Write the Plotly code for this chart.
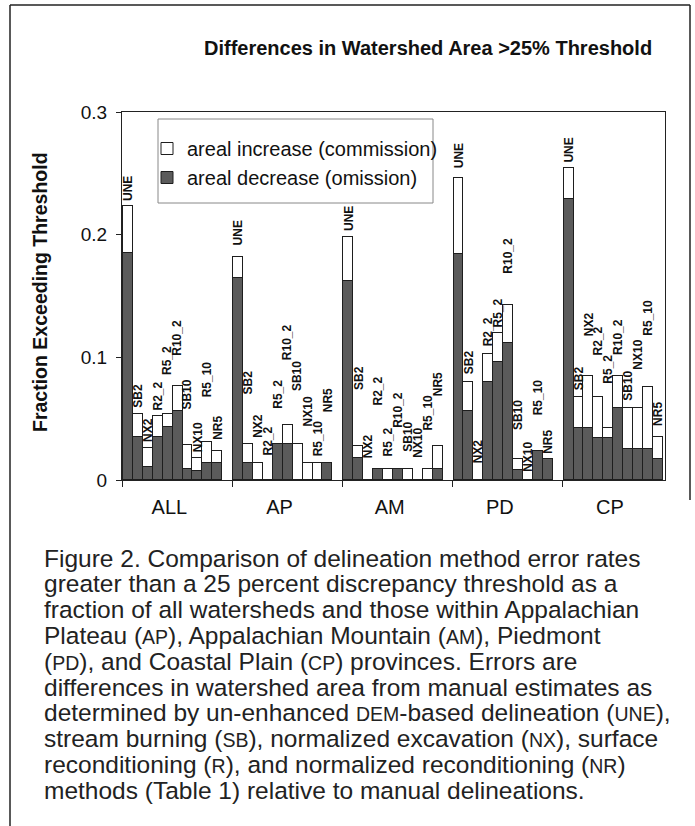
import plotly.graph_objects as go

# ---------------- data ----------------
groups = ["ALL", "AP", "AM", "PD", "CP"]
methods = ["UNE", "SB2", "NX2", "R2_2", "R5_2", "R10_2", "SB10", "NX10", "R5_10", "NR5"]

# areal decrease (omission) – dark part of each bar
omission_all = [0.185, 0.035, 0.011, 0.035, 0.043, 0.0565, 0.009, 0.007, 0.014, 0.014]
omission_ap = [0.165, 0.014, 0.0, 0.0, 0.029, 0.029, 0.0, 0.0, 0.0, 0.014]
omission_am = [0.162, 0.018, 0.0, 0.009, 0.0, 0.009, 0.0, 0.0, 0.0, 0.009]
omission_pd = [0.184, 0.056, 0.0, 0.080, 0.096, 0.112, 0.008, 0.0, 0.024, 0.017]
omission_cp = [0.229, 0.0425, 0.0425, 0.0345, 0.0345, 0.059, 0.0255, 0.0255, 0.0255, 0.0175]

# areal increase (commission) – white part stacked on top
commission_all = [0.038, 0.019, 0.015, 0.017, 0.011, 0.020, 0.0195, 0.011, 0.017, 0.010]
commission_ap = [0.017, 0.015, 0.014, 0.0, 0.0, 0.0155, 0.029, 0.014, 0.014, 0.0]
commission_am = [0.036, 0.010, 0.0, 0.0, 0.009, 0.0, 0.009, 0.0, 0.009, 0.019]
commission_pd = [0.062, 0.024, 0.0, 0.023, 0.024, 0.031, 0.009, 0.0, 0.0, 0.0]
commission_cp = [0.025, 0.0255, 0.0425, 0.0335, 0.008, 0.026, 0.0335, 0.0335, 0.0505, 0.0175]

y_ticks = [0, 0.1, 0.2, 0.3]
y_tick_text = ["0", "0.1", "0.2", "0.3"]

# ---------------- layout / style parameters ----------------
# label lift (pixels) above each bar top, per group, to reproduce hand-arranged labels
label_lift = [
    [2, 3, 3, 3, 36, 27, 32, 3, 42, 8],
    [8, 47, 22, 22, 33, 62, 50, 33, 3, 48],
    [3, 53, 19, 60, 10, 38, 14, 19, 35, 46],
    [7, 5, 14, 4, 2, 28, 26, 5, 32, 2],
    [3, 3, 37, 38, 41, 18, 4, 35, 48, 8],
]

omissions = [omission_all, omission_ap, omission_am, omission_pd, omission_cp]
commissions = [commission_all, commission_ap, commission_am, commission_pd, commission_cp]

W, H = 695, 826
L, R, T, B = 122, 665, 112, 480  # plot area in pixels
X_MAX = 4.93
BAR_W = 0.09
BAR_START = 0.01

def px_x(p):
    return (p - L) / (R - L)

def px_y(p):
    return (B - p) / (B - T)

FONT = "Liberation Sans, Arial, sans-serif"
DARK = "#5b5b5b"
EDGE = "#1e1e1e"

xs, om, cm = [], [], []
for g in range(len(groups)):
    for i, m in enumerate(methods):
        xs.append(g + BAR_START + (i + 0.5) * BAR_W)
        om.append(omissions[g][i])
        cm.append(commissions[g][i])

fig = go.Figure()
fig.add_trace(go.Bar(
    x=xs, y=om, width=BAR_W, name="areal decrease (omission)",
    marker=dict(color=DARK, line=dict(color=EDGE, width=1)),
    legendrank=2, hoverinfo="skip",
))
fig.add_trace(go.Bar(
    x=xs, y=cm, width=BAR_W, name="areal increase (commission)",
    marker=dict(color="white", line=dict(color=EDGE, width=1)),
    legendrank=1, hoverinfo="skip",
))

annotations = []
k = 0
for g in range(len(groups)):
    for i, m in enumerate(methods):
        tot = omissions[g][i] + commissions[g][i]
        annotations.append(dict(
            x=xs[k], y=tot, xref="x", yref="y", text="<b>%s</b>" % m,
            textangle=-90, showarrow=False, xanchor="center", yanchor="bottom",
            yshift=label_lift[g][i] + 1,
            font=dict(family=FONT, size=12, color="#111"),
        ))
        k += 1

# title & axis title
annotations.append(dict(
    x=px_x(428), y=px_y(48), xref="paper", yref="paper",
    text="<b>Differences in Watershed Area >25% Threshold</b>", showarrow=False,
    xanchor="center", yanchor="middle", font=dict(family=FONT, size=20, color="#111"),
))
annotations.append(dict(
    x=px_x(40), y=px_y(292), xref="paper", yref="paper",
    text="<b>Fraction Exceeding Threshold</b>", showarrow=False, textangle=-90,
    xanchor="center", yanchor="middle", font=dict(family=FONT, size=19.5, color="#111"),
))

# caption
sc = '<span style="font-size:19.5px">%s</span>'
caption_lines = [
    "Figure 2. Comparison of delineation method error rates",
    "greater than a 25 percent discrepancy threshold as a",
    "fraction of all watersheds and those within Appalachian",
    "Plateau (%s), Appalachian Mountain (%s), Piedmont" % (sc % "AP", sc % "AM"),
    "(%s), and Coastal Plain (%s) provinces. Errors are" % (sc % "PD", sc % "CP"),
    "differences in watershed area from manual estimates as",
    "determined by un-enhanced %s-based delineation (%s)," % (sc % "DEM", sc % "UNE"),
    "stream burning (%s), normalized excavation (%s), surface" % (sc % "SB", sc % "NX"),
    "reconditioning (%s), and normalized reconditioning (%s)" % (sc % "R", sc % "NR"),
    "methods (Table 1) relative to manual delineations.",
]
for j, line in enumerate(caption_lines):
    annotations.append(dict(
        x=px_x(42), y=px_y(558 + j * 25.8), xref="paper", yref="paper",
        text=line, showarrow=False, xanchor="left", yanchor="middle",
        font=dict(family=FONT, size=24.5, color="#222"),
    ))

shapes = [
    dict(type="line", xref="paper", yref="paper", x0=px_x(10), x1=px_x(10),
         y0=px_y(5), y1=px_y(826), line=dict(color="#222", width=1.5)),
    dict(type="line", xref="paper", yref="paper", x0=px_x(10), x1=px_x(690),
         y0=px_y(5), y1=px_y(5), line=dict(color="#222", width=1.5)),
    dict(type="line", xref="paper", yref="paper", x0=px_x(690), x1=px_x(690),
         y0=px_y(5), y1=px_y(500), line=dict(color="#222", width=1.5)),
    # legend frame
    dict(type="rect", xref="paper", yref="paper", x0=px_x(158), x1=px_x(433),
         y0=px_y(119), y1=px_y(203), line=dict(color="#888", width=1), layer="above"),
]

fig.update_layout(
    width=W, height=H,
    margin=dict(l=L, r=W - R, t=T, b=H - B, pad=0),
    paper_bgcolor="white", plot_bgcolor="white",
    barmode="stack", bargap=0,
    showlegend=True,
    legend=dict(
        x=px_x(147), y=px_y(129), xanchor="left", yanchor="top",
        borderwidth=0, bgcolor="rgba(0,0,0,0)",
        font=dict(family=FONT, size=20, color="#111"),
        tracegroupgap=4, itemwidth=30, traceorder="normal",
    ),
    xaxis=dict(
        range=[0, X_MAX], showgrid=False, zeroline=False,
        showline=True, linecolor="#222", linewidth=1, mirror=True,
        tickmode="array", tickvals=[g + 0.43 for g in range(len(groups))],
        ticktext=groups, ticks="", tickfont=dict(family=FONT, size=20, color="#111"),
        ticklabelstandoff=9,
        minor=dict(tickmode="array", tickvals=list(range(len(groups))),
                   ticks="outside", ticklen=6, tickcolor="#222"),
    ),
    yaxis=dict(
        range=[0, 0.3], showgrid=False, zeroline=False,
        showline=True, linecolor="#222", linewidth=1, mirror=True,
        tickmode="array", tickvals=y_ticks, ticktext=y_tick_text,
        ticks="outside", ticklen=5, tickcolor="#222", ticklabelstandoff=5,
        tickfont=dict(family=FONT, size=19, color="#111"),
    ),
    annotations=annotations,
    shapes=shapes,
)

fig.write_html("out.html")
